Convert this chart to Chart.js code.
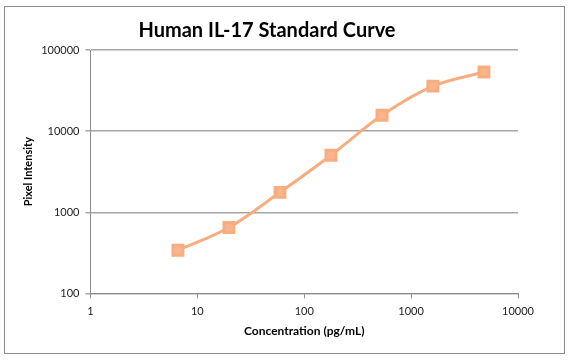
<!DOCTYPE html>
<html>
<head>
<meta charset="utf-8">
<script src="https://cdn.jsdelivr.net/npm/chart.js@4"></script>
<style>
  body { margin: 0; background: #fff; }
  #wrap { width: 570px; height: 362px; position: relative; }
</style>
</head>
<body>
<div id="wrap"><canvas id="curva" width="570" height="362"></canvas></div>
<script>
// standard curve values
const concentrations = [6.58, 19.75, 59.26, 177.8, 533.3, 1600, 4800];
const intensities = [340, 650, 1760, 5050, 15700, 35900, 53500];
const xTicks = [1, 10, 100, 1000, 10000];
const yTicks = [100, 1000, 10000, 100000];

const frame = {
  id: 'frame',
  beforeDraw(chart) {
    const c = chart.ctx;
    c.save();
    c.strokeStyle = '#8c8c8c';
    c.lineWidth = 1;
    c.strokeRect(4.5, 6.5, 560, 347);
    c.restore();
  }
};

const ctx = document.getElementById('curva').getContext('2d');
const curva = new Chart(ctx, {
  type: 'scatter',
  data: {
    datasets: [{
      label: 'IL-17',
      data: concentrations.map((x, i) => ({ x: x, y: intensities[i] })),
      showLine: true,
      borderColor: '#F8AD80',
      borderWidth: 3,
      backgroundColor: '#FAB48C',
      pointStyle: 'rect',
      pointRadius: 7,
      pointHoverRadius: 7,
      cubicInterpolationMode: 'monotone'
    }]
  },
  plugins: [frame],
  options: {
    responsive: false,
    animation: false,
    layout: { padding: { left: 16, right: 52, top: 10, bottom: 20 } },
    plugins: {
      legend: { display: false },
      tooltip: { enabled: false },
      title: {
        display: true,
        text: 'Human IL-17 Standard Curve',
        color: '#000',
        font: { family: 'Lato', size: 20, weight: 'bold' },
        padding: { top: 9, bottom: 7 }
      }
    },
    scales: {
      x: {
        type: 'logarithmic',
        min: 1, max: 10000,
        afterBuildTicks: s => { s.ticks = xTicks.map(v => ({ value: v })); },
        ticks: {
          callback: v => String(v),
          color: '#222',
          font: { family: 'Lato', size: 11 },
          maxRotation: 0, padding: 6
        },
        grid: { drawOnChartArea: false, drawTicks: true, tickLength: 5, color: '#8c8c8c' },
        border: { color: '#8c8c8c' },
        title: {
          display: true, text: 'Concentration (pg/mL)', color: '#000',
          font: { family: 'Lato', size: 12, weight: 'bold' }, padding: { top: 0 }
        }
      },
      y: {
        type: 'logarithmic',
        min: 100, max: 100000,
        afterBuildTicks: s => { s.ticks = yTicks.map(v => ({ value: v })); },
        ticks: {
          callback: v => String(v),
          color: '#222',
          font: { family: 'Lato', size: 11 },
          padding: 6
        },
        grid: { color: '#a6a6a6', tickLength: 5, lineWidth: 1.5 },
        border: { color: '#8c8c8c' },
        title: {
          display: true, text: 'Pixel Intensity', color: '#000',
          font: { family: 'Lato', size: 11, weight: 'bold' }, padding: { top: 6, bottom: 0 }
        }
      }
    }
  }
});
</script>
</body>
</html>
